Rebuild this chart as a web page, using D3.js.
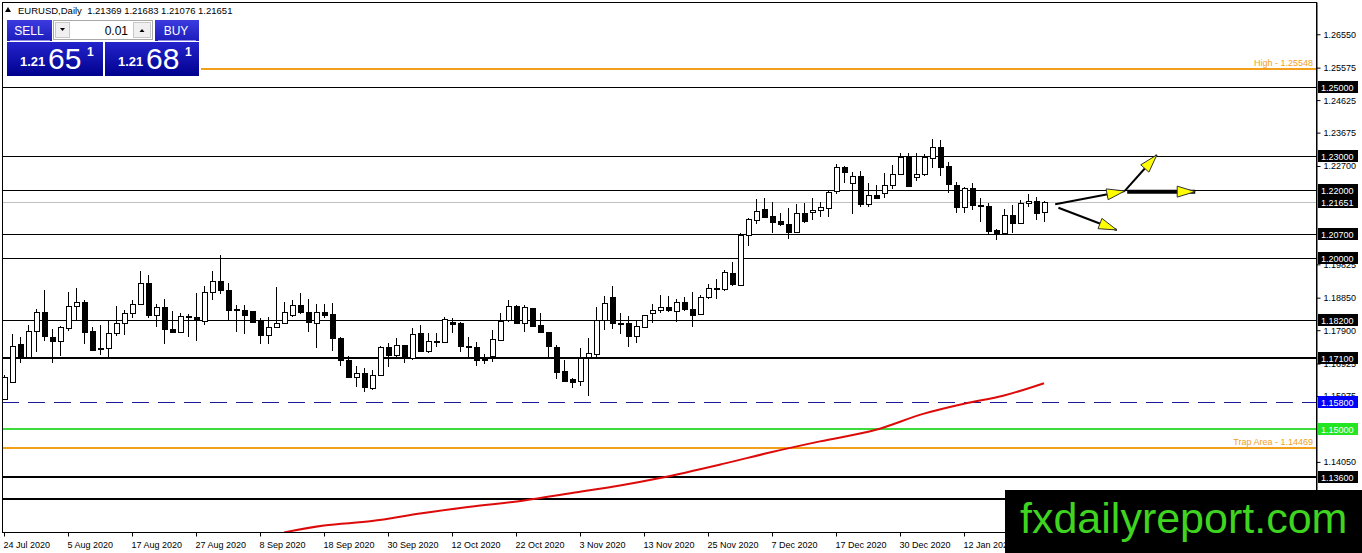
<!DOCTYPE html>
<html>
<head>
<meta charset="utf-8">
<script src="https://cdn.jsdelivr.net/npm/d3@7.9.0/dist/d3.min.js"></script>
<style>
  body { margin: 0; background: #fff; }
  svg { display: block; font-family: "Liberation Sans", Arial, sans-serif; }
</style>
</head>
<body>
<svg id="chart" width="1362" height="553"></svg>
<script>
// Daily EURUSD candles, 24 Jul 2020 .. 26 Jan 2021 (bar index 0..130)
const opens = [
  1.1591, 1.1640, 1.1749, 1.1711, 1.1788, 1.1843, 1.1769, 1.1757, 1.1798, 1.1859,
  1.1872, 1.1787, 1.1737, 1.1736, 1.1781, 1.1810, 1.1839, 1.1866, 1.1927, 1.1833,
  1.1857, 1.1793, 1.1784, 1.1831, 1.1828, 1.1818, 1.1901, 1.1933, 1.1907, 1.1851,
  1.1848, 1.1845, 1.1816, 1.1776, 1.1798, 1.1810, 1.1834, 1.1863, 1.1842, 1.1813,
  1.1844, 1.1836, 1.1766, 1.1703, 1.1654, 1.1666, 1.1620, 1.1659, 1.1740, 1.1718,
  1.1746, 1.1709, 1.1781, 1.1728, 1.1758, 1.1755, 1.1815, 1.1810, 1.1744, 1.1740,
  1.1713, 1.1713, 1.1763, 1.1818, 1.1860, 1.1812, 1.1855, 1.1805, 1.1784, 1.1742,
  1.1672, 1.1648, 1.1640, 1.1711, 1.1722, 1.1820, 1.1886, 1.1812, 1.1810, 1.1773,
  1.1800, 1.1839, 1.1847, 1.1857, 1.1847, 1.1872, 1.1852, 1.1835, 1.1886, 1.1912,
  1.1910, 1.1956, 1.1922, 1.2068, 1.2114, 1.2143, 1.2124, 1.2109, 1.2100, 1.2078,
  1.2134, 1.2134, 1.2140, 1.2149, 1.2195, 1.2266, 1.2222, 1.2241, 1.2159, 1.2185,
  1.2190, 1.2214, 1.2247, 1.2297, 1.2237, 1.2246, 1.2292, 1.2325, 1.2270, 1.2214,
  1.2149, 1.2205, 1.2155, 1.2152, 1.2083, 1.2073, 1.2126, 1.2103, 1.2161, 1.2169,
  1.21369
];
const highs = [
  1.1660, 1.1779, 1.1769, 1.1805, 1.1851, 1.1908, 1.1793, 1.1802, 1.1902, 1.1912,
  1.1878, 1.1798, 1.1805, 1.1817, 1.1861, 1.1849, 1.1878, 1.1963, 1.1951, 1.1867,
  1.1881, 1.1846, 1.1839, 1.1836, 1.1900, 1.1919, 1.1964, 1.2010, 1.1928, 1.1864,
  1.1864, 1.1846, 1.1825, 1.1830, 1.1917, 1.1871, 1.1878, 1.1898, 1.1880, 1.1867,
  1.1867, 1.1869, 1.1769, 1.1715, 1.1684, 1.1679, 1.1674, 1.1744, 1.1754, 1.1766,
  1.1747, 1.1795, 1.1805, 1.1781, 1.1781, 1.1830, 1.1825, 1.1813, 1.1769, 1.1755,
  1.1721, 1.1791, 1.1839, 1.1878, 1.1864, 1.1864, 1.1856, 1.1839, 1.1786, 1.1747,
  1.1703, 1.1651, 1.1737, 1.1766, 1.1859, 1.1889, 1.1919, 1.1839, 1.1832, 1.1820,
  1.1835, 1.1867, 1.1893, 1.1890, 1.1880, 1.1888, 1.1903, 1.1892, 1.1925, 1.1939,
  1.1966, 1.1990, 1.2073, 1.2117, 1.2173, 1.2175, 1.2164, 1.2132, 1.2146, 1.2159,
  1.2161, 1.2175, 1.2166, 1.2200, 1.2275, 1.2270, 1.2251, 1.2255, 1.2219, 1.2214,
  1.2250, 1.2273, 1.2307, 1.2307, 1.2307, 1.2305, 1.2348, 1.2346, 1.2283, 1.2224,
  1.2208, 1.2221, 1.2176, 1.2163, 1.2086, 1.2144, 1.2156, 1.2171, 1.2187, 1.2180,
  1.21683
];
const lows = [
  1.1585, 1.1637, 1.1695, 1.1708, 1.1727, 1.1757, 1.1695, 1.1715, 1.1789, 1.1817,
  1.1750, 1.1730, 1.1718, 1.1711, 1.1774, 1.1776, 1.1825, 1.1864, 1.1827, 1.1800,
  1.1750, 1.1781, 1.1781, 1.1769, 1.1759, 1.1805, 1.1878, 1.1897, 1.1817, 1.1786,
  1.1778, 1.1810, 1.1749, 1.1749, 1.1796, 1.1808, 1.1830, 1.1836, 1.1784, 1.1739,
  1.1825, 1.1729, 1.1686, 1.1649, 1.1623, 1.1610, 1.1615, 1.1657, 1.1682, 1.1711,
  1.1693, 1.1703, 1.1726, 1.1722, 1.1742, 1.1752, 1.1783, 1.1727, 1.1713, 1.1684,
  1.1691, 1.1698, 1.1757, 1.1815, 1.1807, 1.1784, 1.1800, 1.1781, 1.1708, 1.1647,
  1.1640, 1.1620, 1.1627, 1.1598, 1.1713, 1.1791, 1.1793, 1.1779, 1.1742, 1.1754,
  1.1796, 1.1810, 1.1839, 1.1844, 1.1813, 1.1847, 1.1798, 1.1834, 1.1880, 1.1881,
  1.1905, 1.1920, 1.1920, 1.2037, 1.2099, 1.2117, 1.2075, 1.2095, 1.2056, 1.2073,
  1.2102, 1.2112, 1.2120, 1.2122, 1.2188, 1.2221, 1.2129, 1.2149, 1.2151, 1.2175,
  1.2177, 1.2202, 1.2246, 1.2210, 1.2227, 1.2242, 1.2263, 1.2242, 1.2190, 1.2132,
  1.2134, 1.2141, 1.2107, 1.2068, 1.2054, 1.2068, 1.2073, 1.2100, 1.2149, 1.2112,
  1.21076
];
const closes = [
  1.1654, 1.1745, 1.1711, 1.1788, 1.1843, 1.1774, 1.1757, 1.1799, 1.1861, 1.1872,
  1.1784, 1.1732, 1.1734, 1.1781, 1.1810, 1.1839, 1.1866, 1.1927, 1.1833, 1.1857,
  1.1793, 1.1783, 1.1831, 1.1827, 1.1818, 1.1902, 1.1933, 1.1907, 1.1850, 1.1848,
  1.1833, 1.1813, 1.1774, 1.1798, 1.1810, 1.1842, 1.1863, 1.1842, 1.1813, 1.1844,
  1.1836, 1.1766, 1.1703, 1.1654, 1.1666, 1.1625, 1.1659, 1.1740, 1.1718, 1.1746,
  1.1709, 1.1779, 1.1728, 1.1758, 1.1755, 1.1822, 1.1810, 1.1742, 1.1742, 1.1701,
  1.1703, 1.1763, 1.1818, 1.1860, 1.1810, 1.1859, 1.1803, 1.1784, 1.1742, 1.1669,
  1.1643, 1.1640, 1.1708, 1.1722, 1.1820, 1.1869, 1.1810, 1.1808, 1.1771, 1.1802,
  1.1834, 1.1849, 1.1857, 1.1847, 1.1872, 1.1851, 1.1835, 1.1886, 1.1912, 1.1909,
  1.1960, 1.1923, 1.2068, 1.2114, 1.2139, 1.2119, 1.2107, 1.2099, 1.2078, 1.2134,
  1.2112, 1.2141, 1.2149, 1.2195, 1.2266, 1.2250, 1.2241, 1.2159, 1.2184, 1.2177,
  1.2214, 1.2247, 1.2297, 1.2212, 1.2247, 1.2297, 1.2325, 1.2268, 1.2216, 1.2149,
  1.2205, 1.2155, 1.2151, 1.2078, 1.2073, 1.2126, 1.2103, 1.2161, 1.2168, 1.2135,
  1.21651
];

// slow moving average, read at a few bars
const maIdx = [35, 40, 46, 52, 58, 65, 71, 77, 82, 90, 96, 102, 109, 115, 120, 125, 130];
const maVal = [1.1199, 1.1219, 1.1232, 1.1254, 1.1273, 1.1292, 1.1314, 1.1336, 1.1358,
               1.1400, 1.1434, 1.1465, 1.1499, 1.1546, 1.1575, 1.1599, 1.1635];

// horizontal levels (the lowest one has its label hidden under the watermark)
const levelValues = [1.25, 1.23, 1.22, 1.207, 1.20, 1.182, 1.171, 1.158, 1.15, 1.136, 1.1296];
const labelledLevels = [1.25, 1.23, 1.22, 1.207, 1.20, 1.182, 1.171, 1.158, 1.15, 1.136];
const highLevel = 1.25548;
const trapLevel = 1.14469;
const askPrice = 1.21681;

// axis ticks
const yTickVals = [1.2655, 1.25575, 1.24625, 1.23675, 1.227, 1.19825, 1.1885, 1.179,
                   1.16925, 1.15975, 1.1405];
const xTickIdx = [0, 8, 16, 24, 32, 40, 48, 56, 64, 72, 80, 88, 96, 104, 112, 120];
const xTickLabels = ['24 Jul 2020', '5 Aug 2020', '17 Aug 2020', '27 Aug 2020', '8 Sep 2020',
  '18 Sep 2020', '30 Sep 2020', '12 Oct 2020', '22 Oct 2020', '3 Nov 2020', '13 Nov 2020',
  '25 Nov 2020', '7 Dec 2020', '17 Dec 2020', '30 Dec 2020', '12 Jan 2021'];

// forecast arrows: [fromBar, fromPrice, toBar, toPrice]
const arrows = [
  [131.4, 1.2158, 140.1, 1.2197],
  [131.8, 1.2148, 139.1, 1.2083],
  [140.1, 1.2197, 144.1, 1.2302],
  [140.4, 1.2195, 148.9, 1.2195]
];

// ---- layout
const L = 2, T = 2, R = 1316, B = 532;
const svg = d3.select('#chart');
const x = d3.scaleLinear().domain([0, 164]).range([4, 1316]);
const y = d3.scaleLinear().domain([1.12001, 1.27493]).range([B, T]);
const py = (v, w) => w % 2 ? Math.round(y(v)) + 0.5 : Math.round(y(v));

svg.append('rect').attr('width', 1362).attr('height', 553).attr('fill', '#fff');

const defs = svg.append('defs');
defs.append('clipPath').attr('id', 'plot')
  .append('rect').attr('x', L).attr('y', T).attr('width', R - L).attr('height', B - T);
const g1 = defs.append('linearGradient').attr('id', 'btn').attr('x1', 0).attr('y1', 0).attr('x2', 0).attr('y2', 1);
g1.append('stop').attr('offset', 0).attr('stop-color', '#3b3be0');
g1.append('stop').attr('offset', 1).attr('stop-color', '#1d1dbb');
const g2 = defs.append('linearGradient').attr('id', 'px').attr('x1', 0).attr('y1', 0).attr('x2', 0).attr('y2', 1);
g2.append('stop').attr('offset', 0).attr('stop-color', '#2424cc');
g2.append('stop').attr('offset', 1).attr('stop-color', '#00008e');

const plot = svg.append('g').attr('clip-path', 'url(#plot)');

// level line styles
const levelStyle = {
  1.171: { w: 2, c: '#000' }, 1.136: { w: 2, c: '#000' }, 1.1296: { w: 2, c: '#000' },
  1.158: { w: 1, c: '#1a1a9a', dash: '17,9' }, 1.15: { w: 2, c: '#3bdc3b' }
};
const lvl = (v) => levelStyle[v] || { w: 1, c: '#000' };

// current price line
plot.append('line').attr('x1', L).attr('x2', R)
  .attr('y1', py(closes[closes.length - 1], 1)).attr('y2', py(closes[closes.length - 1], 1))
  .attr('stroke', '#c0c0c0').attr('stroke-width', 1);

levelValues.forEach((v) => {
  const s = lvl(v);
  plot.append('line').attr('x1', L).attr('x2', R)
    .attr('y1', py(v, s.w)).attr('y2', py(v, s.w))
    .attr('stroke', s.c).attr('stroke-width', s.w)
    .attr('stroke-dasharray', s.dash || null)
    .attr('shape-rendering', 'crispEdges');
});

// high and trap area lines with their labels
[[highLevel, 'High - 1.25548'], [trapLevel, 'Trap Area - 1.14469']].forEach(([v, txt]) => {
  plot.append('line').attr('x1', L).attr('x2', R)
    .attr('y1', py(v, 2)).attr('y2', py(v, 2))
    .attr('stroke', '#f2a01c').attr('stroke-width', 2).attr('shape-rendering', 'crispEdges');
  plot.append('text').attr('x', R - 3).attr('y', py(v, 2) - 3)
    .attr('text-anchor', 'end').attr('font-size', 9).attr('fill', '#f2a01c').text(txt);
});

// moving average
plot.append('path')
  .datum(maIdx.map((d, i) => [d, maVal[i]]))
  .attr('d', d3.line().curve(d3.curveMonotoneX).x((d) => x(d[0])).y((d) => y(d[1])))
  .attr('fill', 'none').attr('stroke', '#dd0a0a').attr('stroke-width', 2);

// candles
const bars = d3.range(opens.length);
const cg = plot.append('g').attr('shape-rendering', 'crispEdges');
cg.selectAll('line.wick').data(bars).join('line')
  .attr('class', 'wick')
  .attr('x1', (i) => Math.round(x(i)) + 0.5).attr('x2', (i) => Math.round(x(i)) + 0.5)
  .attr('y1', (i) => y(highs[i])).attr('y2', (i) => y(lows[i]))
  .attr('stroke', '#000');
cg.selectAll('rect.body').data(bars).join('rect')
  .attr('class', 'body')
  .attr('x', (i) => Math.round(x(i)) - 2 + 0.5)
  .attr('width', 5)
  .attr('y', (i) => Math.round(y(Math.max(opens[i], closes[i]))) + 0.5)
  .attr('height', (i) => Math.max(1, Math.round(Math.abs(y(opens[i]) - y(closes[i])))))
  .attr('fill', (i) => closes[i] >= opens[i] ? '#fff' : '#000')
  .attr('stroke', '#000');

// arrows
const ag = plot.append('g');
arrows.forEach(([i0, p0, i1, p1], k) => {
  const x0 = x(i0), y0 = y(p0), x1 = x(i1), y1 = y(p1);
  const w = k === 3 ? 4 : 2;
  ag.append('line').attr('x1', x0).attr('y1', y0).attr('x2', x1).attr('y2', y1)
    .attr('stroke', '#000').attr('stroke-width', w);
  const a = Math.atan2(y1 - y0, x1 - x0), len = 18, hw = 5.5;
  const bx = x1 - len * Math.cos(a), by = y1 - len * Math.sin(a);
  const pts = [[x1, y1],
    [bx + hw * Math.sin(a), by - hw * Math.cos(a)],
    [bx - hw * Math.sin(a), by + hw * Math.cos(a)]];
  ag.append('polygon').attr('points', pts.map((p) => p.join(',')).join(' '))
    .attr('fill', '#ffff00').attr('stroke', '#333').attr('stroke-width', 1);
});

// frame
svg.append('rect').attr('x', L + 0.5).attr('y', T + 0.5).attr('width', R - L).attr('height', B - T)
  .attr('fill', 'none').attr('stroke', '#000').attr('shape-rendering', 'crispEdges');

// right price axis
const yAxis = svg.append('g').attr('transform', `translate(${R + 0.5},0)`)
  .call(d3.axisRight(y).tickValues(yTickVals).tickFormat(d3.format('.5f')).tickSize(4).tickSizeOuter(0));
yAxis.select('.domain').attr('stroke', '#000');
yAxis.selectAll('text').attr('font-size', 9).attr('font-family', '"Liberation Sans", Arial, sans-serif').attr('fill', '#000');

// bottom time axis
const xAxis = svg.append('g').attr('transform', `translate(0,${B + 0.5})`)
  .call(d3.axisBottom(x).tickValues(xTickIdx).tickFormat((d, i) => xTickLabels[i]).tickSize(4).tickSizeOuter(0));
xAxis.select('.domain').remove();
xAxis.selectAll('text').attr('text-anchor', 'start').attr('x', -1).attr('dy', '0.9em')
  .attr('font-size', 9).attr('font-family', '"Liberation Sans", Arial, sans-serif').attr('fill', '#000');

// level labels on the price axis
const boxFill = (v) => v === 1.158 ? '#0000ff' : v === 1.15 ? '#22e622' : '#000';
const boxVals = labelledLevels.concat([closes[closes.length - 1]]);
boxVals.forEach((v) => {
  const yy = Math.round(y(v));
  svg.append('rect').attr('x', R + 2).attr('y', yy - 6).attr('width', 40).attr('height', 12)
    .attr('fill', boxFill(v));
  svg.append('text').attr('x', R + 5).attr('y', yy + 3.5)
    .attr('font-size', 9).attr('fill', '#fff').text(v.toFixed(5));
});

// header text
svg.append('path').attr('d', 'M5,12 L8,7 L11,12 Z').attr('fill', '#000');
const last = opens.length - 1;
svg.append('text').attr('x', 18).attr('y', 14).attr('font-size', 9.5).attr('fill', '#000')
  .attr('xml:space', 'preserve')
  .text(`EURUSD,Daily  ${opens[last].toFixed(5)} ${highs[last].toFixed(5)} ${lows[last].toFixed(5)} ${closes[last].toFixed(5)}`);

// one-click trading panel
const panel = svg.append('g');
panel.append('rect').attr('x', 3).attr('y', 18).attr('width', 198).attr('height', 59).attr('fill', '#fff');
panel.append('rect').attr('x', 7).attr('y', 20).attr('width', 45).attr('height', 21).attr('fill', 'url(#btn)');
panel.append('rect').attr('x', 155).attr('y', 20).attr('width', 44).attr('height', 21).attr('fill', 'url(#btn)');
panel.append('line').attr('x1', 10).attr('x2', 50).attr('y1', 40.5).attr('y2', 40.5).attr('stroke', '#8f8fe8');
panel.append('line').attr('x1', 158).attr('x2', 196).attr('y1', 40.5).attr('y2', 40.5).attr('stroke', '#8f8fe8');
panel.append('text').attr('x', 29).attr('y', 35).attr('text-anchor', 'middle').attr('font-size', 12).attr('fill', '#fff').text('SELL');
panel.append('text').attr('x', 176).attr('y', 35).attr('text-anchor', 'middle').attr('font-size', 12).attr('fill', '#fff').text('BUY');
panel.append('rect').attr('x', 53.5).attr('y', 20.5).attr('width', 99).attr('height', 19).attr('fill', '#fff').attr('stroke', '#a8a8a8');
panel.append('rect').attr('x', 55.5).attr('y', 22.5).attr('width', 14).attr('height', 15).attr('fill', '#f0f0f0').attr('stroke', '#c8c8c8');
panel.append('rect').attr('x', 133.5).attr('y', 22.5).attr('width', 17).attr('height', 15).attr('fill', '#f0f0f0').attr('stroke', '#c8c8c8');
panel.append('path').attr('d', 'M60,28 L65,28 L62.5,31 Z').attr('fill', '#000');
panel.append('path').attr('d', 'M139.5,32 L144.5,32 L142,29 Z').attr('fill', '#000');
panel.append('text').attr('x', 128).attr('y', 35).attr('text-anchor', 'end').attr('font-size', 12).attr('fill', '#000').text('0.01');

[[7, 96, closes[last]], [105, 94, askPrice]].forEach(([bx, bw, v]) => {
  const s = v.toFixed(5);
  panel.append('rect').attr('x', bx).attr('y', 42).attr('width', bw).attr('height', 34).attr('fill', 'url(#px)');
  panel.append('text').attr('x', bx + 13).attr('y', 66).attr('font-size', 13).attr('font-weight', 'bold')
    .attr('fill', '#fff').text(s.slice(0, 4));
  panel.append('text').attr('x', bx + 41).attr('y', 69).attr('font-size', 30).attr('fill', '#fff').text(s.slice(4, 6));
  panel.append('text').attr('x', bx + 80).attr('y', 56).attr('font-size', 12).attr('font-weight', 'bold')
    .attr('fill', '#fff').text(s.slice(6));
});

// watermark
svg.append('rect').attr('x', 1005).attr('y', 490).attr('width', 357).attr('height', 63).attr('fill', '#000');
svg.append('text').attr('x', 1020).attr('y', 533).attr('font-size', 43).attr('fill', '#3fd41f')
  .text('fxdailyreport.com');
</script>
</body>
</html>
